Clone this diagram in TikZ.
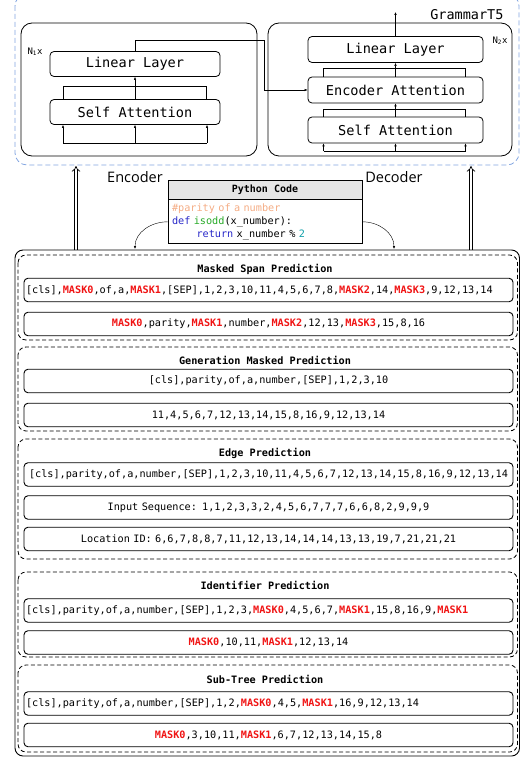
\documentclass[tikz,border=0pt]{standalone}
\usepackage{fontspec}
\setmonofont{DejaVu Sans Mono}
\newfontfamily\labelfont{Open Sans}
\usetikzlibrary{arrows.meta}
\definecolor{maskred}{RGB}{240,20,20}
\definecolor{cmtorange}{RGB}{244,172,132}
\definecolor{kwblue}{RGB}{40,40,200}
\definecolor{fngreen}{RGB}{40,170,40}
\definecolor{numteal}{RGB}{20,160,170}
\definecolor{frameblue}{RGB}{130,165,225}
\newcommand{\msk}[1]{\textcolor{maskred}{\textbf{#1}}}

\begin{document}
\begin{tikzpicture}[x=1pt,y=-1pt,
  layer/.style={draw, rounded corners=4pt, line width=0.8pt, minimum width=170pt,
    minimum height=25pt, inner sep=0pt, font=\ttfamily\fontsize{13.6}{15}\selectfont},
  seqbox/.style={draw, rounded corners=4pt, line width=0.9pt, text width=485pt,
    inner xsep=2pt, inner ysep=0pt, minimum height=23.5pt, align=center,
    font=\ttfamily\fontsize{10.2}{12}\selectfont},
  task/.style={draw, rounded corners=8pt, line width=0.8pt, dash pattern=on 4pt off 2.5pt},
  ttl/.style={font=\ttfamily\bfseries\fontsize{10.2}{12}\selectfont},
  tip/.style={-{Latex[length=3pt,width=2.4pt]}},
  bigarrow/.style={double, double distance=2.2pt, line width=0.7pt, -{Implies}}]
 \useasboundingbox (0,0) rectangle (521,759);

 % model
 \draw[frameblue, dash pattern=on 5pt off 3pt, line width=0.8pt, rounded corners=12pt] (15,-6) rectangle (519,165);
 \node[anchor=east, font=\ttfamily\fontsize{13.5}{15}\selectfont] (gname) at (507,15) {GrammarT5};
 \draw[line width=0.8pt, rounded corners=11pt] (21,23) rectangle (257,156);
 \draw[line width=0.8pt, rounded corners=11pt] (268,23) rectangle (512,156);
 \node[font=\ttfamily\fontsize{9}{10}\selectfont] (n1) at (35,52) {N\textsubscript{1}x};
 \node[font=\ttfamily\fontsize{9}{10}\selectfont] (n2) at (500,41) {N\textsubscript{2}x};

 % encoder
 \node[layer] (elin) at (135,64) {Linear Layer};
 \node[layer] (esa) at (135,112) {Self Attention};
 \coordinate (ein) at (135,143);
 \draw[tip] (esa.north) -- (elin.south);
 \draw ([xshift=-72]esa.north) -- ++(0,-13) -| ([xshift=71]esa.north);
 \draw ([xshift=-72]ein) -- ([xshift=72]ein);
 \foreach \dx in {-72,0,72}
  \draw[tip] ([xshift=\dx]ein) -- ([xshift=\dx]esa.south);

 % decoder
 \node[layer, minimum width=175pt, minimum height=26pt] (dlin) at (395.5,49.5) {Linear Layer};
 \node[layer, minimum width=175pt, minimum height=26pt] (dea) at (395.5,90) {Encoder Attention};
 \node[layer, minimum width=175pt, minimum height=26pt] (dsa) at (395.5,130) {Self Attention};
 \coordinate (din) at (395.5,151);
 \coordinate (dout) at (395.5,12);
 \draw[tip] (dsa.north) -- (dea.south);
 \draw[tip] (dea.north) -- (dlin.south);
 \draw[tip] (dlin.north) -- (dout);
 \draw ([xshift=-72]dsa.north) -- ++(0,-7) -| ([xshift=70]dsa.north);
 \draw ([xshift=-72]dea.north) -- ++(0,-8) -| ([xshift=70]dea.north);
 \draw ([xshift=-72]din) -- ([xshift=70]din);
 \foreach \dx in {-72,0,70}
  \draw[tip] ([xshift=\dx]din) -- ([xshift=\dx]dsa.south);
 \draw[tip] (elin.north) |- (264,40) |- (dea.west);

 % input code
 \node[font=\labelfont\fontsize{14.5}{16}\selectfont] (enclbl) at (135,177) {Encoder};
 \node[font=\labelfont\fontsize{14.5}{16}\selectfont] (declbl) at (394,177) {Decoder};
 \node[draw, line width=0.8pt, fill=gray!20, minimum width=194pt, minimum height=19pt, inner sep=0pt,
   font=\ttfamily\bfseries\fontsize{10}{12}\selectfont] (pyhead) at (265,189.5) {Python Code};
 \node[draw, line width=0.8pt, anchor=north, text width=186pt, inner xsep=4pt, minimum height=44pt,
   align=left, font=\ttfamily\fontsize{10.2}{13}\selectfont] (pybody) at (pyhead.south)
   {\textcolor{cmtorange}{\#parity of a number}\\
    \textcolor{kwblue}{def} \textcolor{fngreen}{isodd}(x\_number):\\
    \hspace*{24.5pt}\textcolor{kwblue}{return} x\_number \% \textcolor{numteal}{2}};
 \coordinate (lin) at (135,249);
 \coordinate (rin) at (394,249);
 \draw[tip] (pybody.west) to[out=180, in=90] (lin);
 \draw[tip] (pybody.east) to[out=0, in=90] (rin);
 \coordinate (encfoot) at (76,250);
 \coordinate (enchead) at (76,166);
 \coordinate (decfoot) at (471,250);
 \coordinate (dechead) at (471,166);
 \draw[bigarrow] (encfoot) -- (enchead);
 \draw[bigarrow] (decfoot) -- (dechead);

 % pre-training tasks
 \draw[line width=0.9pt, rounded corners=8pt] (15,250) rectangle (519.5,756);
 \foreach \ya/\yb in {255/340,347/431,439/559,572/657,665/752}
  \draw[task] (18,\ya) rectangle (517.5,\yb);

 \node[ttl] (msp) at (265,269) {Masked Span Prediction};
 \node[seqbox, align=left] (msp1) at (268.5,290)
  {[cls],\msk{MASK0},of,a,\msk{MASK1},[SEP],1,2,3,10,11,4,5,6,7,8,\msk{MASK2},14,\msk{MASK3},9,12,13,14};
 \node[seqbox] (msp2) at (268.5,324)
  {\msk{MASK0},parity,\msk{MASK1},number,\msk{MASK2},12,13,\msk{MASK3},15,8,16};

 \node[ttl] (gmp) at (265,360) {Generation Masked Prediction};
 \node[seqbox] (gmp1) at (268.5,381) {[cls],parity,of,a,number,[SEP],1,2,3,10};
 \node[seqbox] (gmp2) at (268.5,415) {11,4,5,6,7,12,13,14,15,8,16,9,12,13,14};

 \node[ttl] (ep) at (265,453) {Edge Prediction};
 \node[seqbox] (ep1) at (268.5,474.5)
  {[cls],parity,of,a,number,[SEP],1,2,3,10,11,4,5,6,7,12,13,14,15,8,16,9,12,13,14};
 \node[seqbox] (ep2) at (268.5,507.5) {Input Sequence: 1,1,2,3,3,2,4,5,6,7,7,7,6,6,8,2,9,9,9};
 \node[seqbox] (ep3) at (268.5,539) {Location ID: 6,6,7,8,8,7,11,12,13,14,14,14,13,13,19,7,21,21,21};

 \node[ttl] (ip) at (265,585) {Identifier Prediction};
 \node[seqbox, align=left] (ip1) at (268.5,610.5)
  {[cls],parity,of,a,number,[SEP],1,2,3,\msk{MASK0},4,5,6,7,\msk{MASK1},15,8,16,9,\msk{MASK1}};
 \node[seqbox] (ip2) at (268.5,642.5) {\msk{MASK0},10,11,\msk{MASK1},12,13,14};

 \node[ttl] (stp) at (265,679) {Sub-Tree Prediction};
 \node[seqbox, align=left] (stp1) at (268.5,703.5)
  {[cls],parity,of,a,number,[SEP],1,2,\msk{MASK0},4,5,\msk{MASK1},16,9,12,13,14};
 \node[seqbox] (stp2) at (268.5,735) {\msk{MASK0},3,10,11,\msk{MASK1},6,7,12,13,14,15,8};
\end{tikzpicture}
\end{document}
